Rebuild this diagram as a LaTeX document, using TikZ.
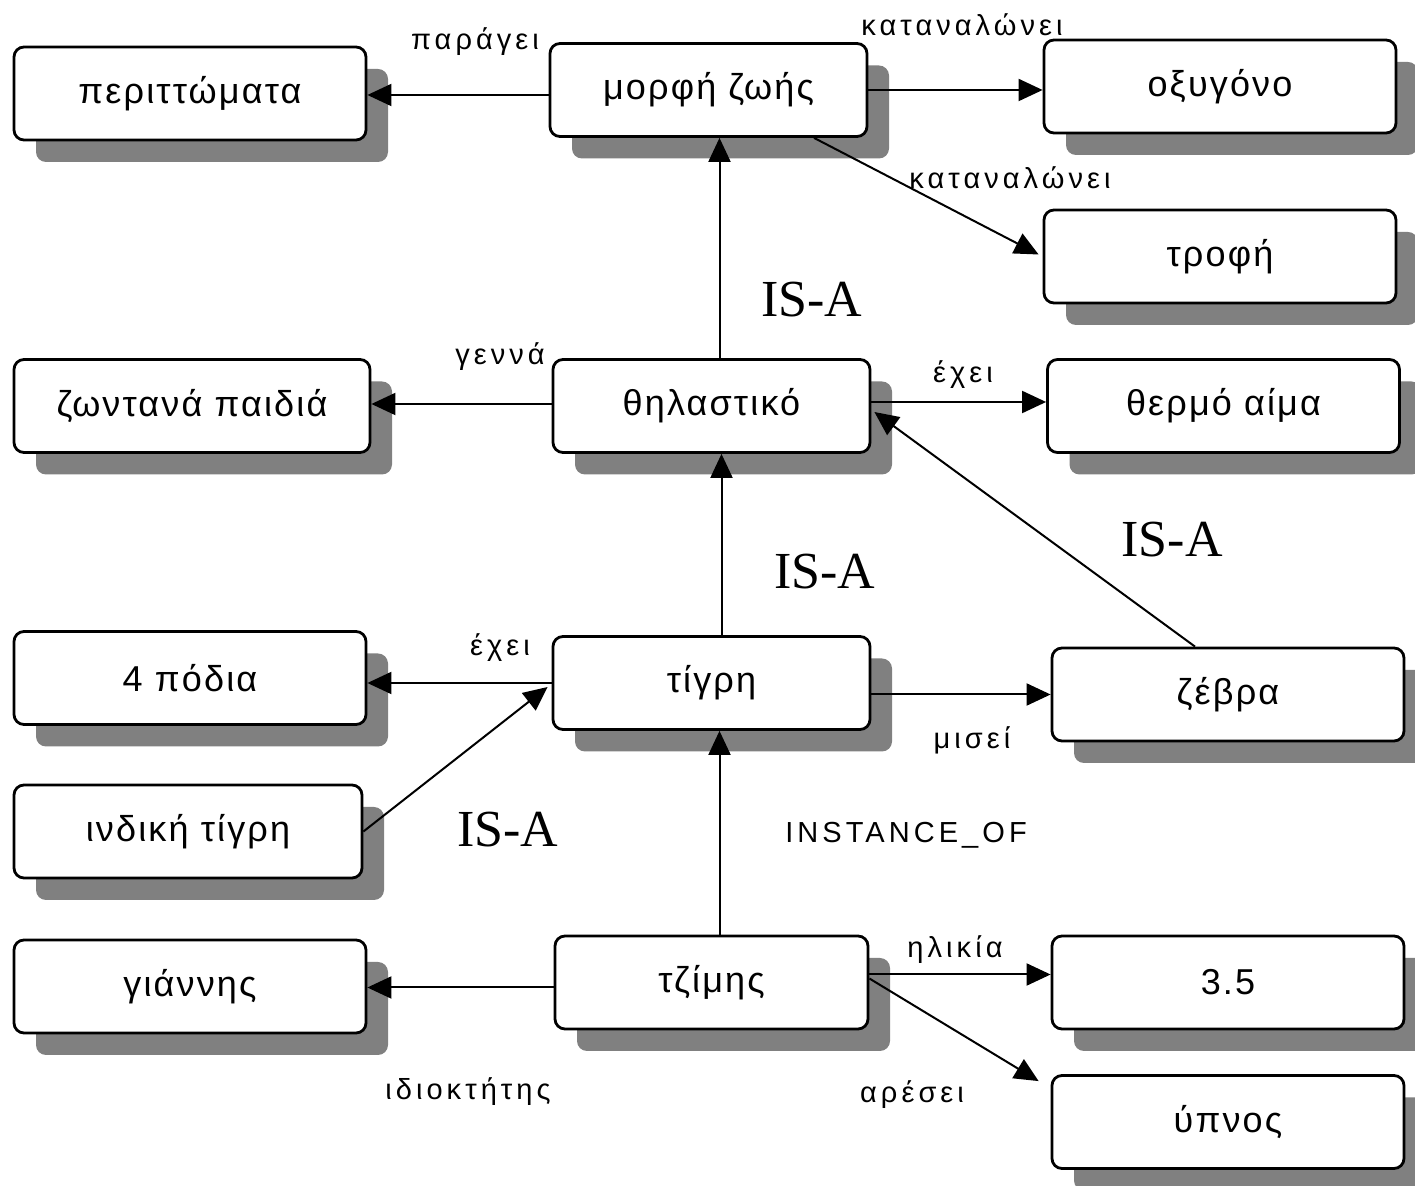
\documentclass[tikz,border=0pt]{standalone}
\usepackage{fontspec}
\setmainfont{Liberation Sans}
\newfontfamily\isafont{Liberation Serif}
\newfontfamily\boxfont[LetterSpace=6]{Liberation Sans}
\newfontfamily\lblfont[LetterSpace=14]{Liberation Sans}
\usetikzlibrary{shadows,arrows.meta,calc}
\begin{document}
\begin{tikzpicture}[x=0.5pt,y=-0.5pt,
  box/.style={draw=black, line width=1.4pt, rounded corners=5pt, fill=white,
    minimum width=176pt, minimum height=46.5pt, inner sep=0pt,
    font=\boxfont\fontsize{18}{20}\selectfont,
    drop shadow={shadow xshift=11pt, shadow yshift=-11pt, fill=black!50, opacity=1}},
  midbox/.style={box, minimum width=158.5pt},
  arr/.style={line width=1pt, -{Triangle[length=12pt,width=11pt]}},
  lbl/.style={font=\lblfont\fontsize{14.5}{16}\selectfont, inner sep=0pt},
  isa/.style={font=\isafont\fontsize{26}{28}\selectfont, inner sep=0pt}]
\useasboundingbox (0,0) rectangle (1415,1186);
\fill[white] (0,0) rectangle (1415,1186);

% nodes
\node[box] (perit) at (190,93.5) {περιττώματα};
\node[midbox] (morfi) at (708.5,90) {μορφή ζωής};
\node[box] (oxyg) at (1220,86.5) {οξυγόνο};
\node[box] (trofi) at (1220,256.5) {τροφή};
\node[box, minimum width=178pt] (zont) at (192,406) {ζωντανά παιδιά};
\node[midbox] (thil) at (711.5,406) {θηλαστικό};
\node[box] (therm) at (1223.5,406) {θερμό αίμα};
\node[box] (podia) at (190,678) {4 πόδια};
\node[midbox] (tigri) at (711.5,683) {τίγρη};
\node[box] (zevra) at (1228,694.5) {ζέβρα};
\node[box, minimum width=174pt] (indiki) at (188,831.5) {ινδική τίγρη};
\node[box] (giannis) at (190,986.5) {γιάννης};
\node[midbox, minimum width=156.5pt] (tzimis) at (711.5,982.5) {τζίμης};
\node[box] (n35) at (1228,982.5) {3.5};
\node[box] (ypnos) at (1228,1122) {ύπνος};

% connector end points
\coordinate (c1) at ($(thil.north)+(8,0)$);
\coordinate (c2) at ($(tigri.north)+(10,0)$);
\coordinate (c3) at ($(tzimis.north)+(8,0)$);

% connectors
\draw[arr] ($(morfi.west)+(0,5)$) -- ($(morfi.west -| perit.east)+(0,5)$);
\draw[arr] (morfi.east) -- (morfi.east -| oxyg.west);
\draw[arr] ($(morfi.south east)!0.17!(morfi.south west)$) -- ($(trofi.west)+(-4,-2)$);
\draw[arr] (c1) -- (c1 |- morfi.south);
\draw[arr] ($(thil.west)+(0,-2)$) -- ($(thil.west -| zont.east)+(0,-2)$);
\draw[arr] ($(thil.east)+(0,-4)$) -- ($(thil.east -| therm.west)+(0,-4)$);
\draw[arr] ($(zevra.north)+(-33,0)$) -- ($(thil.east)+(3,6)$);
\draw[arr] (c2) -- (c2 |- thil.south);
\draw[arr] (tigri.west) -- (tigri.west -| podia.east);
\draw[arr] (indiki.east) -- ($(tigri.west)+(-4,4)$);
\draw[arr] (zevra.west -| tigri.east) -- (zevra.west);
\draw[arr] (c3) -- (c3 |- tigri.south);
\draw[arr] ($(tzimis.west)+(0,5)$) -- ($(tzimis.west -| giannis.east)+(0,5)$);
\draw[arr] ($(tzimis.east)+(0,-8)$) -- ($(tzimis.east -| n35.west)+(0,-8)$);
\draw[arr] ($(tzimis.east)+(0,-4)$) -- ($(ypnos.north west)+(-12,7)$);

% labels
\node[lbl] (l1) at (475,42) {παράγει};
\node[lbl] (l2) at (962,25) {καταναλώνει};
\node[lbl] (l3) at (1010,178) {καταναλώνει};
\node[isa] (l4) at (812,300) {IS-A};
\node[lbl] (l5) at (500,357) {γεννά};
\node[lbl] (l6) at (963,375) {έχει};
\node[isa] (l7) at (1172,540) {IS-A};
\node[isa] (l8) at (825,572) {IS-A};
\node[lbl] (l9) at (500,648) {έχει};
\node[lbl] (l10) at (972,740) {μισεί};
\node[isa] (l11) at (508,830) {IS-A};
\node[lbl] (l12) at (906,835) {INSTANCE\_OF};
\node[lbl] (l13) at (955,950) {ηλικία};
\node[lbl] (l14) at (468,1092) {ιδιοκτήτης};
\node[lbl] (l15) at (912,1095) {αρέσει};
\end{tikzpicture}
\end{document}
